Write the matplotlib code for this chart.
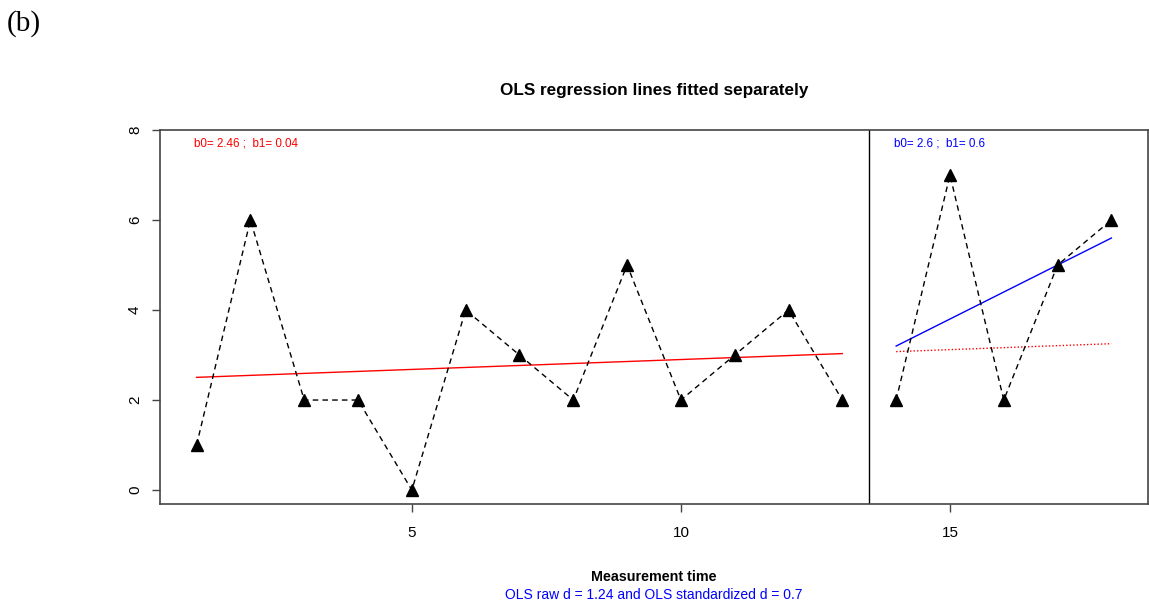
import numpy as np
import matplotlib.pyplot as plt

plt.rcParams['font.family'] = ['Liberation Sans Narrow', 'Liberation Sans', 'DejaVu Sans']

# phase A (baseline) and phase B measurements
time_a = [1, 2, 3, 4, 5, 6, 7, 8, 9, 10, 11, 12, 13]
score_a = [1, 6, 2, 2, 0, 4, 3, 2, 5, 2, 3, 4, 2]
time_b = [14, 15, 16, 17, 18]
score_b = [2, 7, 2, 5, 6]

# OLS coefficients (phase A on measurement time, phase B on time within phase)
b0_a, b1_a = 2.46, 0.044
b0_b, b1_b = 2.6, 0.6

fig = plt.figure(figsize=(11.49, 6.06), dpi=100)
ax = fig.add_axes([160 / 1149, 1 - 504 / 606, (1148 - 160) / 1149, (504 - 130) / 606])

ta = np.array(time_a)
tb = np.array(time_b)
tb_phase = np.arange(1, len(time_b) + 1)

# data
ax.plot(time_a, score_a, color='black', linestyle=(0, (4, 3)), linewidth=1,
        marker='^', markersize=8, zorder=3)
ax.plot(time_b, score_b, color='black', linestyle=(0, (4, 3)), linewidth=1,
        marker='^', markersize=8, zorder=3)

# fitted lines
ax.plot(ta, b0_a + b1_a * ta, color='red', linewidth=1)
ax.plot(tb, b0_a + b1_a * tb, color='red', linewidth=1, linestyle=(0, (1, 1.5)))
ax.plot(tb, b0_b + b1_b * tb_phase, color='blue', linewidth=1)

ax.axvline(13.5, color='black', linewidth=1)

ax.text(0.96, 7.7, 'b0= 2.46 ;  b1= 0.04', color='red', fontsize=8.4, va='center')
ax.text(13.96, 7.7, 'b0= 2.6 ;  b1= 0.6', color='blue', fontsize=8.4, va='center')

ax.set_xlim(0.32, 18.68)
ax.set_ylim(-0.31, 8.0)
ax.set_xticks([5, 10, 15])
ax.set_yticks([0, 2, 4, 6, 8])
ax.tick_params(direction='out', length=6, width=1, color='#444444', labelsize=11)
ax.tick_params(axis='y', pad=7)
ax.tick_params(axis='x', pad=10)
for lab in ax.get_yticklabels():
    lab.set_rotation(90)
    lab.set_va('center')
for s in ax.spines.values():
    s.set_color('#444444')
    s.set_linewidth(1.2)

fig.text(654 / 1149, 1 - 90 / 606, 'OLS regression lines fitted separately',
         ha='center', va='center', fontsize=12.3, fontweight='bold')
fig.text(654 / 1149, 1 - 577 / 606, 'Measurement time', ha='center', va='center',
         fontsize=10.3, fontweight='bold')
fig.text(654 / 1149, 1 - 595 / 606, 'OLS raw d = 1.24 and OLS standardized d = 0.7',
         ha='center', va='center', fontsize=10, color='blue')
fig.text(7 / 1149, 1 - 24 / 606, '(b)', ha='left', va='center', fontsize=21,
         family=['Liberation Serif', 'DejaVu Serif'])

fig.savefig('out.png', dpi=100)
